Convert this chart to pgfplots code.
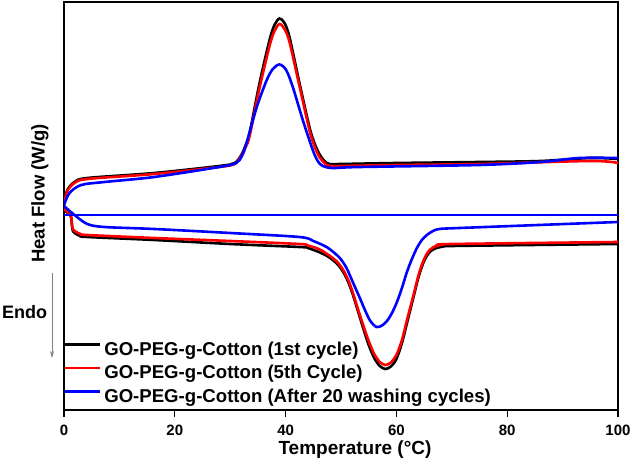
\documentclass[border=0pt]{standalone}
\usepackage{pgfplots}
\pgfplotsset{compat=1.18}
\usepackage{fontspec}
\setmainfont{Liberation Sans}
\usetikzlibrary{arrows.meta}

\begin{document}
\begin{tikzpicture}
% page frame in px of the reference (axis box: x 64..618, y 2..410)
\path[use as bounding box] (-64bp,-51bp) rectangle (568bp,410bp);
\begin{axis}[
    scale only axis,
    width=554bp, height=408bp,
    at={(0,0)}, anchor=south west,
    xmin=0, xmax=100,
    ymin=-410, ymax=-2,
    xtick={0,20,40,60,80,100},
    ytick=\empty,
    xtick pos=lower,
    tick align=outside,
    major tick length=7bp,
    every tick/.style={black, line width=1.2bp},
    axis line style={line width=1.3bp},
    /pgf/number format/assume math mode=true,
    xticklabel style={font=\bfseries\fontsize{15bp}{15bp}\selectfont, yshift=-5bp},
    legend style={at={(0,0)}, anchor=south west, draw=none, fill=none,
        inner sep=0pt, row sep=0pt,
        font=\bfseries\fontsize{18.6bp}{18.6bp}\selectfont,
        nodes={text height=13bp, text depth=4bp, inner ysep=3.3bp, inner xsep=2.5bp}},
    legend cell align=left,
    legend image code/.code={\draw[#1] (1bp,6.3bp) -- (36bp,6.3bp);},
    curve/.style={line width=2.6bp, smooth, tension=0.5},
]

% 1st cycle
\addplot[black, curve] coordinates {
    (0,-205) (0.6,-190) (1.9,-182) (4.2,-178) (16.3,-173) (28,-166) (30.8,-163)
    (32,-155) (32.8,-145) (33.5,-133) (35.3,-83) (37.1,-40) (38,-25)
    (38.9,-18.5) (39.8,-23) (40.7,-37) (42.5,-83) (44.3,-127) (45.2,-143)
    (46.1,-154) (47,-161) (47.9,-164) (50,-164) (60,-163) (75,-162)
    (86,-161) (95,-158) (100,-159)
};
\addlegendentry{GO-PEG-g-Cotton (1st cycle)}
\addplot[black, curve, forget plot] coordinates {
    (0,-210) (1.2,-216) (1.4,-224) (1.6,-231) (2.2,-234) (3,-236) (4.2,-237)
    (16.3,-240) (30,-244) (42.5,-247) (44,-248) (46,-252) (47.5,-256)
    (48.5,-260) (49.5,-265) (50.5,-273) (51.3,-282) (52.1,-294) (53,-310)
    (54,-328) (55,-345) (56,-358) (57,-366) (58,-369) (59,-366.5)
    (60,-359) (61,-343) (62,-321) (63,-299) (64,-277) (65,-261)
    (66,-252) (67,-248.5) (68,-247) (70,-246) (100,-244)
};

% 5th cycle
\addplot[red, curve] coordinates {
    (0,-205) (0.6,-191) (1.9,-183) (4.2,-179) (16.3,-174) (28,-167) (30.8,-164)
    (32,-156) (32.8,-147) (33.5,-136) (35.3,-88) (37.1,-46) (38,-31)
    (38.9,-24) (39.8,-29) (40.7,-42) (42.5,-86) (44.3,-130) (45.2,-146)
    (46.1,-157) (47,-163) (47.9,-166) (50,-166) (60,-165) (75,-164)
    (95,-161) (100,-163)
};
\addlegendentry{GO-PEG-g-Cotton (5th Cycle)}
\addplot[red, curve, forget plot] coordinates {
    (0,-209) (1.2,-215) (1.4,-222) (1.6,-229) (2.2,-232) (3,-234) (4.2,-235)
    (16.3,-238) (30,-241) (42.5,-244) (44,-245.5) (46,-249) (47.5,-254)
    (48.5,-258) (49.5,-263) (50.5,-271) (51.3,-280) (52.1,-292) (53,-308)
    (54,-325) (55,-341) (56,-354) (57,-362) (58,-365) (59,-362.5)
    (60,-355) (61,-340) (62,-318) (63,-297) (64,-275) (65,-259)
    (66,-250) (67,-246.5) (68,-245) (70,-244) (100,-242)
};

% after 20 washing cycles
\addplot[blue, curve] coordinates {
    (0,-205) (1.0,-193) (3.1,-185) (7.3,-182) (16.3,-177) (28,-167) (31.1,-163)
    (32.2,-155) (33.0,-142) (34.8,-107) (36.6,-80) (37.7,-69) (38.9,-64.5)
    (40.1,-70) (41.3,-87) (43.1,-120) (44.9,-150) (45.8,-161) (46.7,-166)
    (48.5,-168) (53.4,-167) (75,-165) (86,-162) (93,-158) (100,-158)
};
\addlegendentry{GO-PEG-g-Cotton (After 20 washing cycles)}
\addplot[blue, curve, forget plot] coordinates {
    (0,-206) (1.9,-215) (4.2,-224) (7.3,-227) (16.3,-229) (30,-233)
    (42.5,-237) (45,-241) (47.4,-247) (48.6,-252) (49.8,-258) (51,-268)
    (52.2,-283) (53.4,-298) (54.4,-311) (55.3,-321) (56.4,-327) (57.4,-325.5)
    (58.3,-321) (59.2,-313) (60.1,-302) (61,-288) (61.9,-272) (62.8,-259)
    (63.7,-248) (64.6,-240) (65.5,-235) (66.6,-231) (67.8,-229) (71.4,-228)
    (100,-222)
};
\addplot[blue, curve, forget plot] coordinates {(0,-215) (100,-215)};

\end{axis}

% labels
\node[rotate=90, anchor=west, inner sep=0pt, font=\bfseries\fontsize{18.5bp}{18.5bp}\selectfont] at (-24bp,147bp) {Heat Flow (W/g)};
\node[font=\bfseries\fontsize{19bp}{19bp}\selectfont] at (291bp,-40bp) {Temperature (°C)};
\node[font=\bfseries\fontsize{18bp}{18bp}\selectfont] at (-39.5bp,98bp) {Endo};
\draw[gray, line width=0.8bp, -{Stealth[length=7bp, width=4bp]}] (-12bp,137bp) -- (-12bp,52bp);
\end{tikzpicture}
\end{document}
